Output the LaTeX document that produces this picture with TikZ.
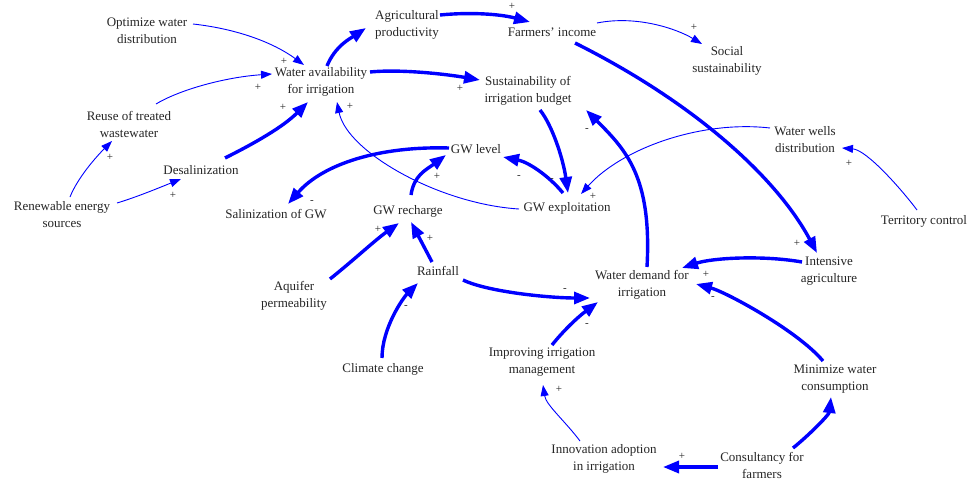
\documentclass[tikz,border=0pt]{standalone}
\usepackage{fontspec}
\setmainfont{Liberation Serif}
\usetikzlibrary{arrows.meta}
\begin{document}
\begin{tikzpicture}[x=1pt,y=-1pt,
  var/.style={align=center, inner sep=1pt, text=black!85, font=\fontsize{13}{17}\selectfont},
  pol/.style={inner sep=0pt, text=black!85, font=\fontsize{11}{11}\selectfont},
  strong/.style={draw=blue, line width=3.4pt, -{Triangle[length=16pt,width=12pt]}},
  weak/.style={draw=blue, line width=0.9pt, -{Triangle[length=11pt,width=8pt]}}]
\useasboundingbox[fill=white] (0,0) rectangle (974,487);

% variables
\node[var] (opt)   at (147,31)  {Optimize water\\distribution};
\node[var] (wa)    at (321,82)  {Water availability\\for irrigation};
\node[var] (agp)   at (407,25)  {Agricultural\\productivity};
\node[var] (fi)    at (552,32)  {Farmers' income};
\node[var] (soc)   at (727,61)  {Social\\sustainability};
\node[var] (sib)   at (528,91)  {Sustainability of\\irrigation budget};
\node[var] (reuse) at (129,124) {Reuse of treated\\wastewater};
\node[var] (desal) at (201,170) {Desalinization};
\node[var] (ren)   at (62,215)  {Renewable energy\\sources};
\node[var] (gwl)   at (476,149) {GW level};
\node[var] (sal)   at (276,214) {Salinization of GW};
\node[var] (gwr)   at (408,211) {GW recharge};
\node[var] (gwe)   at (567,208) {GW exploitation};
\node[var] (wwd)   at (805,140) {Water wells\\distribution};
\node[var] (terr)  at (924,221) {Territory control};
\node[var] (ia)    at (829,271) {Intensive\\agriculture};
\node[var] (wdi)   at (642,285) {Water demand for\\irrigation};
\node[var] (aq)    at (294,296) {Aquifer\\permeability};
\node[var] (rain)  at (438,271) {Rainfall};
\node[var] (cc)    at (383,369) {Climate change};
\node[var] (iim)   at (542,362) {Improving irrigation\\management};
\node[var] (inno)  at (604,459) {Innovation adoption\\in irrigation};
\node[var] (mwc)   at (835,379) {Minimize water\\consumption};
\node[var] (cons)  at (762,465) {Consultancy for\\farmers};

% causal links
\draw[weak]   ([shift={(46,-7)}]opt.center) .. controls +(45,5) and +(-30,-22) .. ([shift={(-17,-17)}]wa.center);
\draw[weak]   ([shift={(27,-20)}]reuse.center) .. controls +(25,-15) and +(-45,3) .. ([shift={(-49,-8)}]wa.center);
\draw[strong] ([shift={(24,-12)}]desal.center) .. controls +(30,-15) and +(-25,25) .. ([shift={(-13,20)}]wa.center);
\draw[weak]   ([shift={(8,-18)}]ren.center) .. controls +(8,-20) and +(-15,15) .. ([shift={(-17,17)}]reuse.center);
\draw[weak]   ([shift={(55,-12)}]ren.center) .. controls +(20,-6) and +(-20,8) .. ([shift={(-20,9)}]desal.center);
\draw[strong] ([shift={(6,-16)}]wa.center) .. controls +(8,-20) and +(-15,10) .. ([shift={(-41,3)}]agp.center);
\draw[strong] ([shift={(33,-10)}]agp.center) .. controls +(30,-3) and +(-30,-8) .. ([shift={(-22,-10)}]fi.center);
\draw[weak]   ([shift={(45,-9)}]fi.center) .. controls +(40,-8) and +(-25,-15) .. ([shift={(-25,-17)}]soc.center);
\draw[strong] ([shift={(23,11)}]fi.center) .. controls +(120,60) and +(-40,-75) .. ([shift={(-12,-18)}]ia.center);
\draw[strong] ([shift={(49,-10)}]wa.center) .. controls +(30,-3) and +(-35,-6) .. ([shift={(-48,-11)}]sib.center);
\draw[weak]   ([shift={(-48,1)}]gwe.center) .. controls +(-80,-5) and +(10,50) .. ([shift={(16,20)}]wa.center);
\draw[strong] ([shift={(12,19)}]sib.center) .. controls +(12,15) and +(-5,-35) .. ([shift={(1,-15)}]gwe.center);
\draw[strong] ([shift={(5,-18)}]wdi.center) .. controls +(5,-90) and +(40,40) .. ([shift={(58,19)}]sib.center);
\draw[weak]   ([shift={(-35,-12)}]wwd.center) .. controls +(-70,-8) and +(40,-45) .. ([shift={(14,-14)}]gwe.center);
\draw[weak]   ([shift={(-7,-11)}]terr.center) .. controls +(-15,-20) and +(25,2) .. ([shift={(37,8)}]wwd.center);
\draw[strong] ([shift={(-27,-1)}]gwl.center) .. controls +(-70,-2) and +(35,-40) .. ([shift={(12,-10)}]sal.center);
\draw[strong] ([shift={(3,-16)}]gwr.center) .. controls +(3,-20) and +(-20,15) .. ([shift={(-30,6)}]gwl.center);
\draw[strong] ([shift={(36,-17)}]aq.center) .. controls +(25,-20) and +(-25,18) .. ([shift={(-9,12)}]gwr.center);
\draw[strong] ([shift={(-6,-9)}]rain.center) -- ([shift={(3,11)}]gwr.center);
\draw[strong] ([shift={(25,9)}]rain.center) .. controls +(25,12) and +(-40,0) .. ([shift={(-52,13)}]wdi.center);
\draw[strong] ([shift={(-1,-11)}]cc.center) .. controls +(0,-30) and +(-15,15) .. ([shift={(-20,12)}]rain.center);
\draw[strong] ([shift={(-27,-9)}]ia.center) .. controls +(-40,-7) and +(30,-10) .. ([shift={(40,-17)}]wdi.center);
\draw[strong] ([shift={(-12,-18)}]mwc.center) .. controls +(-25,-30) and +(30,8) .. ([shift={(54,-1)}]wdi.center);
\draw[strong] ([shift={(10,-17)}]iim.center) .. controls +(12,-15) and +(-20,15) .. ([shift={(-44,17)}]wdi.center);
\draw[weak]   ([shift={(-24,-18)}]inno.center) .. controls +(-15,-20) and +(3,20) .. ([shift={(1,23)}]iim.center);
\draw[strong] ([shift={(-44,2)}]cons.center) -- ([shift={(59,8)}]inno.center);
\draw[strong] ([shift={(31,-17)}]cons.center) .. controls +(15,-12) and +(-2,18) .. ([shift={(-4,18)}]mwc.center);
\draw[strong] ([shift={(-4,-15)}]gwe.center) .. controls +(-15,-18) and +(25,5) .. ([shift={(27,8)}]gwl.center);

% link polarities
\node[pol] (p1)  at (284,61)  {+};
\node[pol] (p2)  at (258,87)  {+};
\node[pol] (p3)  at (283,107) {+};
\node[pol] (p4)  at (110,157) {+};
\node[pol] (p5)  at (173,195) {+};
\node[pol] (p7)  at (512,6)   {+};
\node[pol] (p8)  at (694,27)  {+};
\node[pol] (p9)  at (797,243) {+};
\node[pol] (p10) at (460,88)  {+};
\node[pol] (p11) at (350,106) {+};
\node[pol] (p12) at (552,180) {-};
\node[pol] (p13) at (587,130) {-};
\node[pol] (p14) at (593,196) {+};
\node[pol] (p15) at (849,163) {+};
\node[pol] (p16) at (312,202) {-};
\node[pol] (p17) at (437,176) {+};
\node[pol] (p18) at (378,229) {+};
\node[pol] (p19) at (430,238) {+};
\node[pol] (p20) at (565,290) {-};
\node[pol] (p21) at (406,307) {-};
\node[pol] (p22) at (706,274) {+};
\node[pol] (p23) at (713,298) {-};
\node[pol] (p24) at (587,325) {-};
\node[pol] (p25) at (559,389) {+};
\node[pol] (p26) at (682,456) {+};
\node[pol] (p28) at (519,177) {-};
\end{tikzpicture}
\end{document}
